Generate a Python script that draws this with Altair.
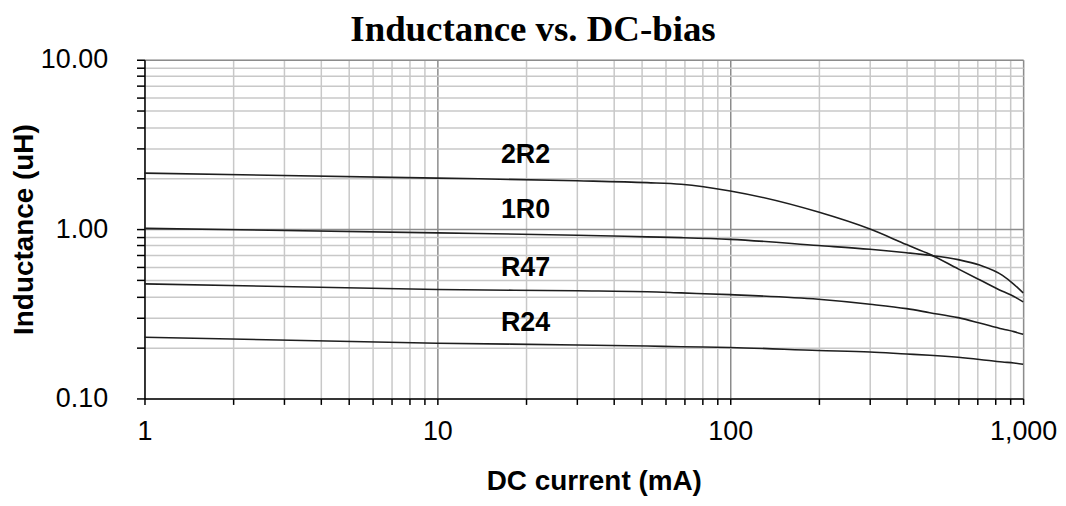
import altair as alt
import pandas as pd

# ---- data ----
current = [1, 10, 30, 52, 68, 100, 200, 300, 400, 480, 600, 710, 850, 930, 1000]
l_2R2 = [2.14, 2.00, 1.93, 1.88, 1.84, 1.68, 1.26, 1.00, 0.81, 0.71, 0.582, 0.502, 0.429, 0.40, 0.372]
l_1R0 = [1.01, 0.95, 0.92, 0.90, 0.89, 0.87, 0.80, 0.76, 0.725, 0.70, 0.66, 0.613, 0.533, 0.472, 0.42]
l_R47 = [0.475, 0.44, 0.432, 0.427, 0.42, 0.41, 0.385, 0.36, 0.339, 0.321, 0.30, 0.279, 0.257, 0.248, 0.239]
l_R24 = [0.23, 0.212, 0.207, 0.204, 0.202, 0.20, 0.192, 0.188, 0.183, 0.18, 0.175, 0.17, 0.164, 0.162, 0.159]

series_names = ["2R2", "1R0", "R47", "R24"]
label_x = [20, 20, 20, 20]
label_y = [2.75, 1.29, 0.585, 0.277]

x_ticks = [1, 2, 3, 4, 5, 6, 7, 8, 9,
           10, 20, 30, 40, 50, 60, 70, 80, 90,
           100, 200, 300, 400, 500, 600, 700, 800, 900, 1000]
y_ticks = [0.1, 0.2, 0.3, 0.4, 0.5, 0.6, 0.7, 0.8, 0.9,
           1, 2, 3, 4, 5, 6, 7, 8, 9, 10]

rows = []
for name, vals in zip(series_names, [l_2R2, l_1R0, l_R47, l_R24]):
    for c, v in zip(current, vals):
        rows.append({"series": name, "current": c, "L": v})
df = pd.DataFrame(rows)
df_lab = pd.DataFrame({"series": series_names, "x": label_x, "y": label_y})

FONT = "Liberation Sans"

x_scale = alt.Scale(type="log", domain=[1, 1000], nice=False)
y_scale = alt.Scale(type="log", domain=[0.1, 10], nice=False)

x_axis = alt.Axis(
    title="DC current (mA)",
    values=x_ticks,
    labelExpr="(datum.value == 1 || datum.value == 10 || datum.value == 100 || datum.value == 1000) ? format(datum.value, ',') : ''",
    grid=True,
    gridColor={"condition": {"test": "datum.value == 10 || datum.value == 100 || datum.value == 1000", "value": "#8c8c8c"}, "value": "#c8c8c8"},
    gridWidth=1.5,
    tickSize=6,
    tickColor="#000",
    tickWidth=1.5,
    domainColor="#000",
    domainWidth=1.5,
    labelFont=FONT,
    labelFontSize=27,
    labelColor="#000",
    labelPadding=14,
    labelFlush=False,
    labelOverlap=False,
    titleFont=FONT,
    titleFontSize=28,
    titleFontWeight="bold",
    titleColor="#000",
    titlePadding=23,
    titleX=451,
)

y_axis = alt.Axis(
    title="Inductance (uH)",
    values=y_ticks,
    labelExpr="(datum.value == 0.1 || datum.value == 1 || datum.value == 10) ? format(datum.value, '.2f') : ''",
    grid=True,
    gridColor={"condition": {"test": "datum.value == 1 || datum.value == 10", "value": "#8c8c8c"}, "value": "#c8c8c8"},
    gridWidth=1.5,
    tickSize=8,
    tickColor="#000",
    tickWidth=1.5,
    domainColor="#000",
    domainWidth=1.5,
    labelFont=FONT,
    labelFontSize=27,
    labelColor="#000",
    labelPadding=29,
    labelFlush=False,
    labelOverlap=False,
    titleFont=FONT,
    titleFontSize=28,
    titleFontWeight="bold",
    titleColor="#000",
    titlePadding=2,
)

lines = alt.Chart(df).mark_line(
    color="#1e1e1e", strokeWidth=1.6, interpolate="monotone"
).encode(
    x=alt.X("current:Q", scale=x_scale, axis=x_axis),
    y=alt.Y("L:Q", scale=y_scale, axis=y_axis),
    detail="series:N",
)

labels = alt.Chart(df_lab).mark_text(
    font=FONT, fontSize=27, fontWeight="bold", color="#000",
    align="center", baseline="middle"
).encode(
    x=alt.X("x:Q", scale=x_scale),
    y=alt.Y("y:Q", scale=y_scale),
    text="series:N",
)

chart = alt.layer(lines, labels).properties(
    width=882,
    height=340,
    title=alt.TitleParams(
        "Inductance vs. DC-bias",
        font="Liberation Serif",
        fontSize=37,
        fontWeight="bold",
        color="#000",
        anchor="middle",
        offset=10,
        dx=-51,
        dy=13,
    ),
    autosize=alt.AutoSizeParams(type="none"),
    padding={"left": 137, "top": 51, "right": 35, "bottom": 99},
).configure_view(stroke="transparent").configure(background="white")

chart.save("out.html", embed_options={"renderer": "svg", "actions": False})
